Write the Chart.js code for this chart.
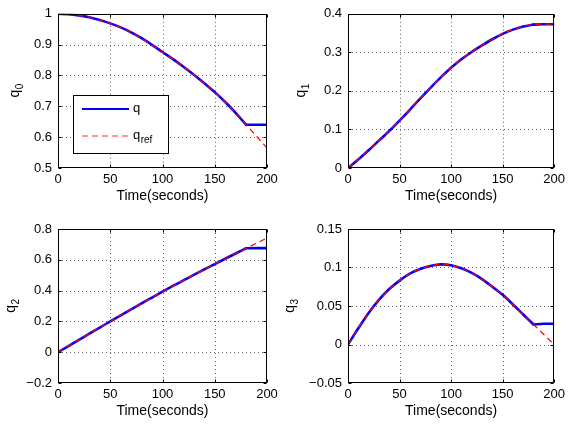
<!DOCTYPE html>
<html>
<head>
<meta charset="utf-8">
<script src="https://cdn.jsdelivr.net/npm/chart.js@4/dist/chart.umd.min.js"></script>
<style>
html,body{margin:0;padding:0;background:#fff;}
body{width:569px;height:424px;position:relative;overflow:hidden;}
canvas{position:absolute;}
</style>
</head>
<body>
<canvas id="c0" width="284" height="212" style="left:0px;top:0px;width:284px;height:212px"></canvas>
<canvas id="c1" width="285" height="212" style="left:284px;top:0px;width:285px;height:212px"></canvas>
<canvas id="c2" width="284" height="212" style="left:0px;top:212px;width:284px;height:212px"></canvas>
<canvas id="c3" width="285" height="212" style="left:284px;top:212px;width:285px;height:212px"></canvas>
<script>
// ---------- data ----------
const time = [0,10,20,30,40,50,60,70,80,90,100,110,120,130,140,150,160,170,180,190,200];
const switchTime = 180; // q stops following q_ref here

const q0Ref = [1.000,0.999,0.995,0.989,0.980,0.969,0.956,0.940,0.921,0.899,0.876,0.853,0.8285,0.8025,0.775,0.746,0.714,0.679,0.640,0.603,0.565];
const q0    = [1.000,0.999,0.995,0.989,0.980,0.969,0.956,0.940,0.921,0.899,0.876,0.853,0.8285,0.8025,0.775,0.746,0.714,0.679,0.640,0.640,0.640];

const q1Ref = [0,0.022,0.046,0.071,0.096,0.123,0.151,0.180,0.208,0.235,0.260,0.282,0.301,0.318,0.334,0.348,0.359,0.367,0.372,0.373,0.373];
const q1    = [0,0.022,0.046,0.071,0.096,0.123,0.151,0.180,0.208,0.235,0.260,0.282,0.301,0.318,0.334,0.348,0.359,0.367,0.372,0.373,0.373];

const q2Ref = [0,0.040,0.080,0.120,0.160,0.200,0.2395,0.2785,0.317,0.355,0.393,0.430,0.466,0.502,0.5375,0.5725,0.607,0.641,0.675,0.708,0.741];
const q2    = [0,0.040,0.080,0.120,0.160,0.200,0.2395,0.2785,0.317,0.355,0.393,0.430,0.466,0.502,0.5375,0.5725,0.607,0.641,0.675,0.676,0.676];

const q3Ref = [0,0.021,0.041,0.058,0.072,0.083,0.092,0.098,0.102,0.104,0.103,0.099,0.093,0.085,0.075,0.0645,0.052,0.039,0.026,0.013,0.000];
const q3    = [0,0.021,0.041,0.058,0.072,0.083,0.092,0.098,0.102,0.104,0.103,0.099,0.093,0.085,0.075,0.0645,0.052,0.039,0.026,0.027,0.027];

const xTicks  = [0,50,100,150,200];
const q0Ticks = [0.5,0.6,0.7,0.8,0.9,1];
const q1Ticks = [0,0.1,0.2,0.3,0.4];
const q2Ticks = [-0.2,0,0.2,0.4,0.6,0.8];
const q3Ticks = [-0.05,0,0.05,0.1,0.15];

const xTitle = 'Time(seconds)';
const yTitleMain = 'q';
const yTitleSubs = ['0','1','2','3'];
const legendNames = ['q','q'];
const legendSubs = ['','ref'];

// ---------- layout / style ----------
const FONT = '"Liberation Sans", Arial, Helvetica, sans-serif';
const panels = [
  {id:'c0', w:284, h:212, l:58, t:13, r:267, b:168, min:0.5,  max:1,    ticks:q0Ticks, q:q0, ref:q0Ref, sub:0, titleX:16, legend:true},
  {id:'c1', w:285, h:212, l:64, t:13, r:273, b:168, min:0,    max:0.4,  ticks:q1Ticks, q:q1, ref:q1Ref, sub:1, titleX:18},
  {id:'c2', w:284, h:212, l:58, t:17, r:267, b:171, min:-0.2, max:0.8,  ticks:q2Ticks, q:q2, ref:q2Ref, sub:2, titleX:12},
  {id:'c3', w:285, h:212, l:64, t:17, r:273, b:171, min:-0.05,max:0.15, ticks:q3Ticks, q:q3, ref:q3Ref, sub:3, titleX:7}
];

function fmt(v){ return String(v).replace('-', '\u2212'); }

const matlabPlugin = {
  id:'matlabAxes',
  beforeDatasetsDraw(chart){
    const {ctx, chartArea:a, scales:{x, y}} = chart;
    ctx.save();
    ctx.strokeStyle = '#666';
    ctx.lineWidth = 1;
    ctx.setLineDash([1,3]);
    x.ticks.forEach(tk => {
      if (tk.value <= x.min || tk.value >= x.max) return;
      const px = Math.round(x.getPixelForValue(tk.value)) + 0.5;
      ctx.beginPath(); ctx.moveTo(px, a.top); ctx.lineTo(px, a.bottom); ctx.stroke();
    });
    y.ticks.forEach(tk => {
      if (tk.value <= y.min + 1e-9 || tk.value >= y.max - 1e-9) return;
      const py = Math.round(y.getPixelForValue(tk.value)) + 0.5;
      ctx.beginPath(); ctx.moveTo(a.left, py); ctx.lineTo(a.right, py); ctx.stroke();
    });
    ctx.restore();
  },
  afterDatasetsDraw(chart, args, opts){
    const {ctx, chartArea:a, scales:{x, y}} = chart;
    const p = opts.panel;
    ctx.save();
    // box
    ctx.setLineDash([]);
    ctx.strokeStyle = '#000';
    ctx.lineWidth = 1;
    const L = Math.round(a.left)+0.5, R = Math.round(a.right)-0.5, T = Math.round(a.top)+0.5, B = Math.round(a.bottom)-0.5;
    ctx.strokeRect(L, T, R-L, B-T);
    // inward ticks
    const tl = 3;
    ctx.beginPath();
    x.ticks.forEach(tk => {
      const px = Math.round(x.getPixelForValue(tk.value)) + 0.5;
      ctx.moveTo(px, B); ctx.lineTo(px, B - tl);
      ctx.moveTo(px, T); ctx.lineTo(px, T + tl);
    });
    y.ticks.forEach(tk => {
      const py = Math.round(y.getPixelForValue(tk.value)) + 0.5;
      ctx.moveTo(L, py); ctx.lineTo(L + tl, py);
      ctx.moveTo(R, py); ctx.lineTo(R - tl, py);
    });
    ctx.stroke();
    // x title
    ctx.fillStyle = '#000';
    ctx.font = '14px ' + FONT;
    ctx.textAlign = 'center';
    ctx.textBaseline = 'middle';
    ctx.fillText(xTitle, (a.left + a.right)/2, a.bottom + 28.5);
    // y title with subscript
    ctx.save();
    ctx.translate(p.titleX, (a.top + a.bottom)/2);
    ctx.rotate(-Math.PI/2);
    ctx.font = '14px ' + FONT;
    const wq = ctx.measureText(yTitleMain).width;
    ctx.font = '10px ' + FONT;
    const ws = ctx.measureText(yTitleSubs[p.sub]).width;
    const start = -(wq + ws)/2;
    ctx.textAlign = 'left';
    ctx.textBaseline = 'alphabetic';
    ctx.font = '14px ' + FONT;
    ctx.fillText(yTitleMain, start, 3);
    ctx.font = '10px ' + FONT;
    ctx.fillText(yTitleSubs[p.sub], start + wq + 0.5, 7);
    ctx.restore();
    // legend
    if (p.legend) {
      const lx = 73.5, ly = 95.5, lw = 95, lh = 58;
      ctx.fillStyle = '#fff';
      ctx.fillRect(lx, ly, lw, lh);
      ctx.strokeStyle = '#000';
      ctx.lineWidth = 1;
      ctx.strokeRect(lx, ly, lw, lh);
      ctx.strokeStyle = '#0000ff';
      ctx.lineWidth = 2.2;
      ctx.beginPath(); ctx.moveTo(82, 109); ctx.lineTo(129, 109); ctx.stroke();
      ctx.strokeStyle = '#ff3333';
      ctx.lineWidth = 1.1;
      ctx.setLineDash([6,4]);
      ctx.beginPath(); ctx.moveTo(82, 136); ctx.lineTo(129, 136); ctx.stroke();
      ctx.setLineDash([]);
      ctx.fillStyle = '#000';
      ctx.textAlign = 'left';
      ctx.textBaseline = 'alphabetic';
      ctx.font = '13px ' + FONT;
      ctx.fillText(legendNames[0], 133, 112);
      ctx.fillText(legendNames[1], 133, 139);
      const wq2 = ctx.measureText(legendNames[1]).width;
      ctx.font = '10px ' + FONT;
      ctx.fillText(legendSubs[1], 133 + wq2 + 0.5, 143);
    }
    ctx.restore();
  }
};

panels.forEach(p => {
  const pts = arr => time.map((t, i) => ({x: t, y: arr[i]}));
  const qPts = pts(p.q);
  const qTracking = qPts.filter(d => d.x <= switchTime);
  const qHeld = qPts.filter(d => d.x >= switchTime);
  new Chart(document.getElementById(p.id), {
    type: 'line',
    data: {
      datasets: [
        {label: 'q_ref', data: pts(p.ref), borderColor: '#ff0000', borderWidth: 1.2, borderDash: [6,4],
         pointRadius: 0, fill: false, cubicInterpolationMode: 'monotone', order: 0},
        {label: 'q', data: qTracking, borderColor: '#0000ff', borderWidth: 2.6, borderCapStyle: 'round', borderJoinStyle: 'round',
         pointRadius: 0, fill: false, cubicInterpolationMode: 'monotone', order: 1},
        {label: 'q (held)', data: qHeld, borderColor: '#0000ff', borderWidth: 2.6, borderCapStyle: 'round', borderJoinStyle: 'round',
         pointRadius: 0, fill: false, tension: 0, order: 2}
      ]
    },
    options: {
      responsive: false,
      animation: false,
      devicePixelRatio: 1,
      events: [],
      layout: {padding: {left: 0, top: p.t, right: p.w - p.r, bottom: 0}},
      plugins: {legend: {display: false}, tooltip: {enabled: false}, matlabAxes: {panel: p}},
      scales: {
        x: {
          type: 'linear', min: 0, max: 200,
          afterBuildTicks: s => { s.ticks = xTicks.map(v => ({value: v})); },
          afterFit: s => { s.height = p.h - p.b; },
          grid: {display: false, drawTicks: false},
          border: {display: false},
          ticks: {color: '#000', font: {family: FONT, size: 13}, padding: 4, maxRotation: 0, autoSkip: false, callback: v => fmt(v)}
        },
        y: {
          type: 'linear', min: p.min, max: p.max,
          afterBuildTicks: s => { s.ticks = p.ticks.map(v => ({value: v})); },
          afterFit: s => { s.width = p.l; },
          grid: {display: false, drawTicks: false},
          border: {display: false},
          ticks: {color: '#000', font: {family: FONT, size: 13}, padding: 6, autoSkip: false, callback: v => fmt(v)}
        }
      }
    },
    plugins: [matlabPlugin]
  });
});
</script>
</body>
</html>
